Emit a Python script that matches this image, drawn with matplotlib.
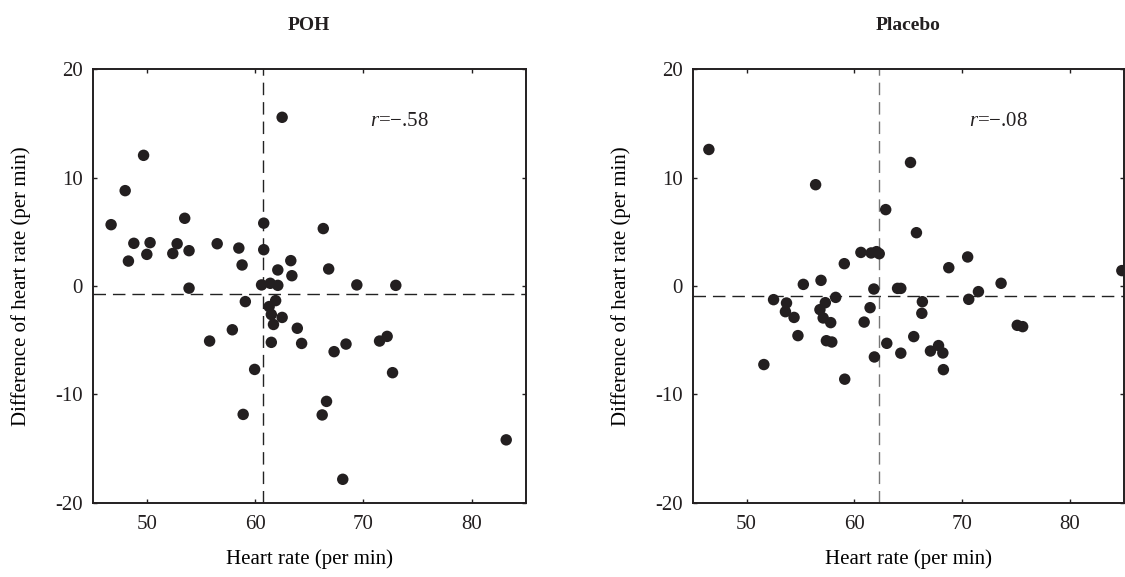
import numpy as np
import matplotlib
matplotlib.use("Agg")
import matplotlib.pyplot as plt

# heart rate (per min) vs difference of heart rate (per min)
poh_hr = [46.7, 48.0, 49.7, 48.3, 48.8, 50.3, 50.0, 52.4, 52.8, 53.5,
          53.9, 53.9, 56.5, 58.5, 58.8, 60.8, 60.8, 62.5, 60.6, 61.4,
          62.1, 62.1, 63.3, 63.4, 66.3, 66.8, 69.4, 73.0, 59.1, 61.3,
          61.9, 61.5, 62.5, 61.7, 57.9, 63.9, 55.8, 61.5, 64.3, 67.3,
          68.4, 71.5, 72.2, 72.7, 59.96, 58.9, 66.2, 66.6, 68.1, 83.2]
poh_diff = [5.66, 8.8, 12.06, 2.3, 3.94, 4.0, 2.92, 3.0, 3.9, 6.25,
            3.26, -0.2, 3.9, 3.5, 1.94, 5.8, 3.35, 15.57, 0.1, 0.25,
            0.06, 1.48, 2.34, 0.95, 5.3, 1.57, 0.1, 0.06, -1.44, -1.9,
            -1.35, -2.63, -2.9, -3.55, -4.04, -3.9, -5.08, -5.2, -5.3, -6.06,
            -5.36, -5.08, -4.65, -8.0, -7.7, -11.85, -11.9, -10.65, -17.84, -14.2]

plc_hr = [46.5, 56.4, 65.2, 62.9, 65.75, 60.6, 61.55, 62.05, 62.3, 59.06,
          70.5, 68.75, 84.8, 55.26, 56.9, 61.8, 64.0, 64.3, 73.6, 71.5,
          70.6, 52.5, 53.7, 53.6, 54.4, 57.3, 58.26, 56.8, 57.1, 57.8,
          61.45, 60.9, 66.3, 66.25, 75.1, 75.6, 54.76, 51.6, 57.4, 57.9,
          59.1, 61.85, 63.0, 64.3, 65.5, 67.05, 67.8, 68.2, 68.25]
plc_diff = [12.6, 9.35, 11.4, 7.05, 4.92, 3.1, 3.05, 3.17, 2.98, 2.06,
            2.68, 1.69, 1.42, 0.15, 0.52, -0.28, -0.22, -0.22, 0.25, -0.52,
            -1.23, -1.26, -1.57, -2.37, -2.9, -1.54, -1.05, -2.18, -2.95, -3.38,
            -2.0, -3.33, -1.45, -2.52, -3.63, -3.75, -4.58, -7.25, -5.05, -5.17,
            -8.6, -6.55, -5.29, -6.2, -4.67, -6.0, -5.5, -6.18, -7.72]

titles = ["POH", "Placebo"]
r_labels = ["\u2212.58", "\u2212.08"]
mean_hr = [60.7, 62.3]        # vertical dashed lines
mean_diff = [-0.7, -0.95]     # horizontal dashed lines
vline_colors = ["#222222", "#777777"]
xticks = [50, 60, 70, 80]
yticks = [-20, -10, 0, 10, 20]
ytick_labels = ["-20", "-10", "0", "10", "20"]

plt.rcParams.update({
    "font.family": ["Liberation Serif", "DejaVu Serif"],
    "font.size": 15,
    "mathtext.fontset": "custom",
    "mathtext.rm": "Liberation Serif",
    "mathtext.it": "Liberation Serif:italic",
    "text.color": "#231f20",
    "axes.edgecolor": "#231f20",
    "xtick.color": "#231f20",
    "ytick.color": "#231f20",
})

W, H = 1125, 577
fig = plt.figure(figsize=(W / 100, H / 100), dpi=100)
# axes boxes in pixels: left, bottom-from-top, width, height
boxes = [(92.7, 502.7, 433.0, 433.4), (692.7, 502.7, 431.3, 433.4)]
data = [(poh_hr, poh_diff), (plc_hr, plc_diff)]
dash = (0, (9, 5))

for i in range(2):
    l, b, w, h = boxes[i]
    ax = fig.add_axes([l / W, (H - b) / H, w / W, h / H])
    hr, diff = data[i]
    ax.axhline(mean_diff[i], color="#222222", linestyle=dash, linewidth=1.0, zorder=1)
    ax.axvline(mean_hr[i], color=vline_colors[i], linestyle=dash, linewidth=1.0, zorder=1)
    ax.scatter(hr, diff, s=68, color="#231f20", edgecolors="none", zorder=3)
    ax.set_xlim(45, 85)
    ax.set_ylim(-20, 20)
    ax.set_xticks(xticks)
    ax.set_yticks(yticks)
    ax.set_yticklabels(ytick_labels)
    ax.tick_params(direction="in", length=3, width=1.0, top=True, right=True,
                   labelsize=15)
    ax.tick_params(axis="x", pad=9)
    ax.tick_params(axis="y", pad=7)
    for sp in ax.spines.values():
        sp.set_linewidth(1.4)
    ax.set_xlabel("Heart rate (per min)", fontsize=15)
    ax.set_ylabel("Difference of heart rate (per min)", fontsize=15)
    ax.xaxis.set_label_coords(0.5, -0.108)
    ax.yaxis.set_label_coords(-0.142, 0.5)
    ax.set_title(titles[i], fontsize=14, fontweight="bold", pad=28)
    ax.text(70.6, 15.2, "$\\mathit{r}$=" + r_labels[i], fontsize=15, va="center", ha="left")

plt.savefig("out.png", dpi=100)
